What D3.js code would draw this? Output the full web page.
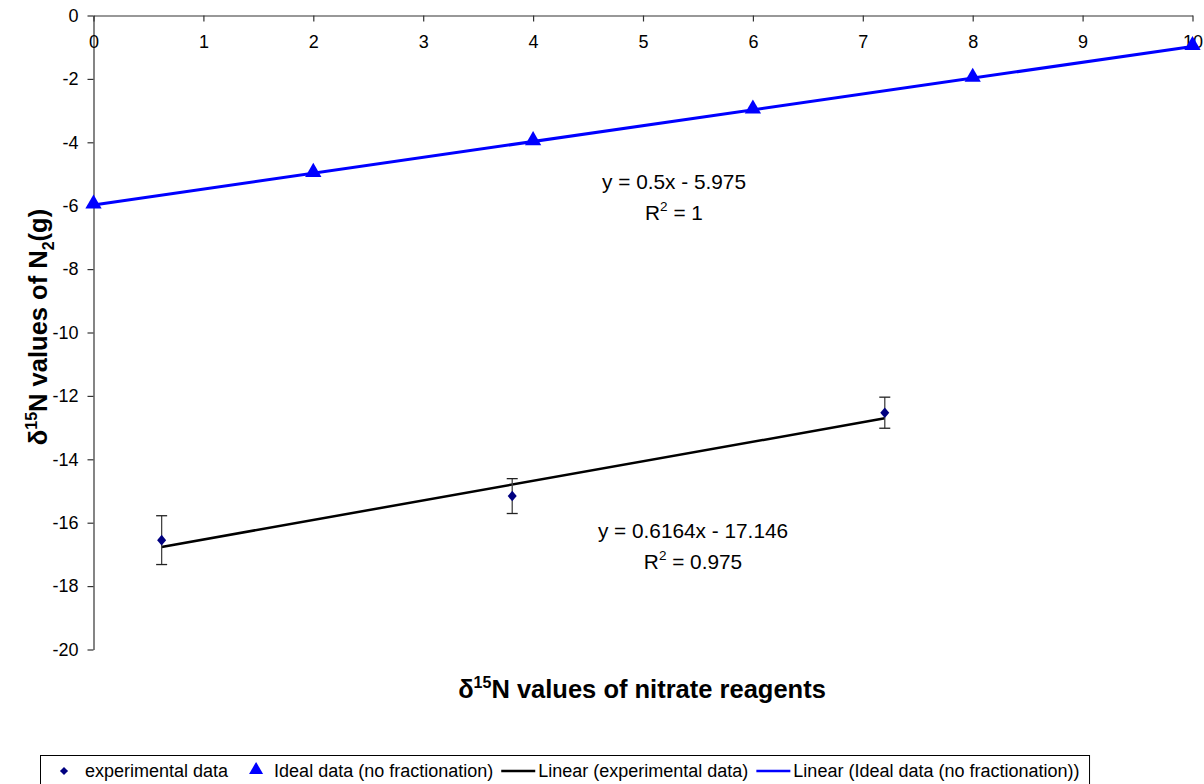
<!DOCTYPE html>
<html>
<head>
<meta charset="utf-8">
<script src="https://cdn.jsdelivr.net/npm/d3@7"></script>
<style>
  html, body { margin: 0; padding: 0; background: #fff; }
  svg { display: block; font-family: Arial, "Liberation Sans", sans-serif; }
</style>
</head>
<body>
<svg id="chart" width="1204" height="784"></svg>
<script>
// Ideal (no fractionation) reference series
const idealX = [0, 2, 4, 6, 8, 10];
const idealY = [-5.975, -4.975, -3.975, -2.975, -1.975, -0.975];

// Experimental series with error bars (±)
const expX = [0.62, 3.81, 7.2];
const expY = [-16.55, -15.16, -12.53];
const expErr = [0.77, 0.55, 0.49];

// Linear trend lines: [slope, intercept]
const idealFit = [0.5, -5.975];
const expFit = [0.6164, -17.146];

const xTicks = [0, 1, 2, 3, 4, 5, 6, 7, 8, 9, 10];
const yTicks = [0, -2, -4, -6, -8, -10, -12, -14, -16, -18, -20];

const legendLabels = ["experimental data", "Ideal data (no fractionation)",
  "Linear (experimental data)", "Linear (Ideal data (no fractionation))"];

const FONT = "Arial, 'Liberation Sans', sans-serif";
const svg = d3.select("#chart");
const x = d3.scaleLinear().domain([0, 10]).range([93.5, 1192.5]);
const y = d3.scaleLinear().domain([-20, 0]).range([649.5, 15.5]);

const axisColor = "#333";

// y axis (left)
const yAxis = svg.append("g").attr("transform", `translate(${x(0)},0)`)
  .call(d3.axisLeft(y).tickValues(yTicks).tickSize(6).tickSizeOuter(0));
yAxis.select(".domain").attr("stroke", axisColor).attr("stroke-width", 1.2);
yAxis.selectAll(".tick line").attr("stroke", axisColor).attr("stroke-width", 1.2);
yAxis.selectAll(".tick text").attr("font-size", 18).attr("fill", "#000")
  .attr("font-family", FONT).attr("x", -15)
  .text(d => d === 0 ? "0" : "-" + Math.abs(d));

// x axis along y = 0, ticks pointing down into the plot
const xAxis = svg.append("g").attr("transform", `translate(0,${y(0)})`)
  .call(d3.axisBottom(x).tickValues(xTicks).tickSize(6).tickSizeOuter(0).tickFormat(d3.format("d")));
xAxis.select(".domain").attr("stroke", axisColor).attr("stroke-width", 1.2);
xAxis.selectAll(".tick line").attr("stroke", axisColor).attr("stroke-width", 1.2);
xAxis.selectAll(".tick text").attr("font-size", 18).attr("fill", "#000")
  .attr("font-family", FONT).attr("y", 20);

// Trend lines
svg.append("line")
  .attr("x1", x(0)).attr("y1", y(idealFit[0] * 0 + idealFit[1]))
  .attr("x2", x(10)).attr("y2", y(idealFit[0] * 10 + idealFit[1]))
  .attr("stroke", "#0000ff").attr("stroke-width", 3);

const ex0 = d3.min(expX), ex1 = d3.max(expX);
svg.append("line")
  .attr("x1", x(ex0)).attr("y1", y(expFit[0] * ex0 + expFit[1]))
  .attr("x2", x(ex1)).attr("y2", y(expFit[0] * ex1 + expFit[1]))
  .attr("stroke", "#000").attr("stroke-width", 2.5);

// Error bars
const eb = svg.append("g").attr("stroke", "#222").attr("stroke-width", 1.3);
expX.forEach((xv, i) => {
  const cx = x(xv), top = y(expY[i] + expErr[i]), bot = y(expY[i] - expErr[i]);
  eb.append("line").attr("x1", cx).attr("x2", cx).attr("y1", top).attr("y2", bot).attr("stroke", "#444");
  eb.append("line").attr("x1", cx - 5.5).attr("x2", cx + 5.5).attr("y1", top).attr("y2", top);
  eb.append("line").attr("x1", cx - 5.5).attr("x2", cx + 5.5).attr("y1", bot).attr("y2", bot);
});

// Markers
const diamond = d3.symbol().type(d3.symbolDiamond2 || d3.symbolDiamond).size(64);
const triangle = d3.symbol().type(d3.symbolTriangle).size(115);

svg.append("g").selectAll("path").data(expX).join("path")
  .attr("d", diamond)
  .attr("transform", (d, i) => `translate(${x(d)},${y(expY[i])}) scale(0.9,1.05)`)
  .attr("fill", "#000080");

svg.append("g").selectAll("path").data(idealX).join("path")
  .attr("d", triangle)
  .attr("transform", (d, i) => `translate(${x(d)},${y(idealY[i]) - 1})`)
  .attr("fill", "#0000ff");

// Equation labels
function eqLabel(cx, cy, fit, r2) {
  const sign = fit[1] < 0 ? " - " : " + ";
  svg.append("text").attr("x", cx).attr("y", cy).attr("text-anchor", "middle")
    .attr("font-size", 20.8).text(`y = ${fit[0]}x${sign}${Math.abs(fit[1])}`);
  const t = svg.append("text").attr("x", cx).attr("y", cy + 31).attr("text-anchor", "middle")
    .attr("font-size", 20.8);
  t.append("tspan").text("R");
  t.append("tspan").attr("dy", -9).attr("font-size", 13.5).text("2");
  t.append("tspan").attr("dy", 9).text(" = " + r2);
}
eqLabel(674, 189, idealFit, 1);
eqLabel(693, 538, expFit, 0.975);

// Axis titles
const xt = svg.append("text").attr("x", 642).attr("y", 698).attr("text-anchor", "middle")
  .attr("font-size", 25.5).attr("font-weight", "bold");
xt.append("tspan").text("δ");
xt.append("tspan").attr("dy", -10).attr("font-size", 16).text("15");
xt.append("tspan").attr("dy", 10).text("N values of nitrate reagents");

const yt = svg.append("text").attr("transform", "translate(47,327) rotate(-90)")
  .attr("text-anchor", "middle").attr("font-size", 25.5).attr("font-weight", "bold");
yt.append("tspan").text("δ");
yt.append("tspan").attr("dy", -10).attr("font-size", 16).text("15");
yt.append("tspan").attr("dy", 10).text("N values of N");
yt.append("tspan").attr("dy", 7).attr("font-size", 16).text("2");
yt.append("tspan").attr("dy", -7).text("(g)");

// Legend: items laid out left to right from their measured text widths
const lg = svg.append("g");
const box = lg.append("rect").attr("x", 40.5).attr("y", 755.5).attr("height", 40)
  .attr("fill", "#fff").attr("stroke", "#000").attr("stroke-width", 1);
const ly = 771;
const lfs = 18;
let cx = 64;
lg.append("path").attr("d", diamond.size(42)()).attr("transform", `translate(${cx},${ly})`).attr("fill", "#000080");
cx += 21;
let t = lg.append("text").attr("x", cx).attr("y", ly + 6).attr("font-size", lfs).text(legendLabels[0]);
cx += t.node().getComputedTextLength() + 28;
lg.append("path").attr("d", triangle.size(85)()).attr("transform", `translate(${cx},${ly - 1})`).attr("fill", "#0000ff");
cx += 18;
t = lg.append("text").attr("x", cx).attr("y", ly + 6).attr("font-size", lfs).text(legendLabels[1]);
cx += t.node().getComputedTextLength() + 8;
lg.append("line").attr("x1", cx).attr("x2", cx + 34).attr("y1", ly).attr("y2", ly).attr("stroke", "#000").attr("stroke-width", 2.5);
cx += 37;
t = lg.append("text").attr("x", cx).attr("y", ly + 6).attr("font-size", lfs).text(legendLabels[2]);
cx += t.node().getComputedTextLength() + 8;
lg.append("line").attr("x1", cx).attr("x2", cx + 34).attr("y1", ly).attr("y2", ly).attr("stroke", "#0000ff").attr("stroke-width", 2.5);
cx += 37;
t = lg.append("text").attr("x", cx).attr("y", ly + 6).attr("font-size", lfs).text(legendLabels[3]);
cx += t.node().getComputedTextLength() + 10;
box.attr("width", cx - 40.5);
</script>
</body>
</html>
